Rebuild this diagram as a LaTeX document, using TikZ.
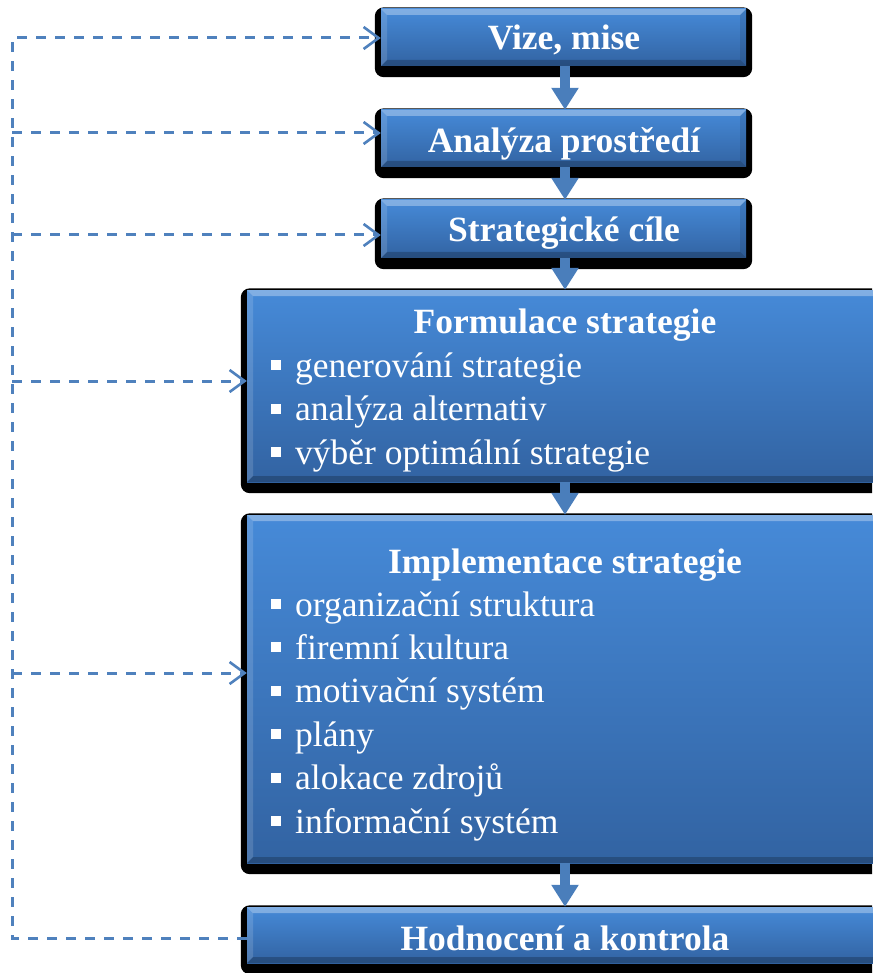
\documentclass[tikz,border=0pt]{standalone}
\usepackage{fontspec}
\setmainfont{Liberation Serif}
\usetikzlibrary{arrows.meta,backgrounds}
\definecolor{facetop}{RGB}{70,138,216}
\definecolor{facebot}{RGB}{50,99,162}
\definecolor{flowblue}{RGB}{74,126,187}
\definecolor{dashblue}{RGB}{79,129,189}
\newcommand{\itembul}{\raisebox{7pt}{\rule{10pt}{10pt}}\hspace{14pt}}
\tikzset{
  face/.style={rectangle, inner sep=0pt, draw=none, top color=facetop, bottom color=facebot,
    path picture={
      \coordinate (nw) at (path picture bounding box.north west);
      \coordinate (ne) at (path picture bounding box.north east);
      \coordinate (sw) at (path picture bounding box.south west);
      \coordinate (se) at (path picture bounding box.south east);
      \fill[white, opacity=0.32] (nw) -- (ne) -- ([shift={(-6pt,-6pt)}]ne) -- ([shift={(6pt,-6pt)}]nw) -- cycle;
      \fill[white, opacity=0.14] (nw) -- ([shift={(6pt,-6pt)}]nw) -- ([shift={(6pt,6pt)}]sw) -- (sw) -- cycle;
      \fill[black, opacity=0.10] (ne) -- ([shift={(-6pt,-6pt)}]ne) -- ([shift={(-6pt,6pt)}]se) -- (se) -- cycle;
      \fill[black, opacity=0.22] (sw) -- (se) -- ([shift={(-6pt,6pt)}]se) -- ([shift={(6pt,6pt)}]sw) -- cycle;
    }},
  title/.style={text=white, inner sep=0pt, anchor=base, font=\fontsize{35.5}{43}\selectfont\bfseries},
  itemtext/.style={text=white, inner sep=0pt, anchor=base west, font=\fontsize{35.5}{43}\selectfont},
  flow/.style={draw=flowblue, line width=10pt, -{Triangle[width=26pt,length=22pt]}},
  feedback/.style={draw=dashblue, line width=3pt, dash pattern=on 10pt off 9pt},
  fbtip/.style={-{Straight Barb[length=15pt,width=22pt,line width=2.6pt]}},
  shadowbox/.style={fill=black, rounded corners=9pt}
}
\begin{document}
\begin{tikzpicture}[x=1pt,y=-1pt]
\useasboundingbox (0,0) rectangle (872,973);

% boxes (faces)
\node[face, minimum width=365pt, minimum height=57pt] (b1) at (563.5,37.5) {};
\node[face, minimum width=365pt, minimum height=57pt] (b2) at (563.5,138.5) {};
\node[face, minimum width=365pt, minimum height=58pt] (b3) at (563.5,229) {};
\node[face, minimum width=633pt, minimum height=192pt] (b4) at (563.5,386) {};
\node[face, minimum width=633pt, minimum height=348pt] (b5) at (563.5,689) {};
\node[face, minimum width=633pt, minimum height=56pt] (b6) at (563.5,935) {};

% shadows behind
\begin{scope}[on background layer]
  \clip (0,0) rectangle (872,973);
  \foreach \b in {b1,b2,b3,b4,b5,b6}{
    \fill[shadowbox] ([shift={(-6pt,1.5pt)}]\b.north west) rectangle ([shift={(6pt,-11pt)}]\b.south east);
  }
\end{scope}

% titles
\node[title] (t1) at (564,50) {Vize, mise};
\node[title] (t2) at (564,153) {Analýza prostředí};
\node[title] (t3) at (564,242) {Strategické cíle};
\node[title] (t4) at (565,333) {Formulace strategie};
\node[title] (t5) at (565,573) {Implementace strategie};
\node[title] (t6) at (565,950) {Hodnocení a kontrola};

% items of Formulace strategie
\node[itemtext] (f1) at (271,377) {\itembul generování strategie};
\node[itemtext] (f2) at (271,420.5) {\itembul analýza alternativ};
\node[itemtext] (f3) at (271,464) {\itembul výběr optimální strategie};

% items of Implementace strategie
\node[itemtext] (i1) at (271,616) {\itembul organizační struktura};
\node[itemtext] (i2) at (271,659.4) {\itembul firemní kultura};
\node[itemtext] (i3) at (271,702.8) {\itembul motivační systém};
\node[itemtext] (i4) at (271,746.2) {\itembul plány};
\node[itemtext] (i5) at (271,789.6) {\itembul alokace zdrojů};
\node[itemtext] (i6) at (271,833) {\itembul informační systém};

% flow arrows
\draw[flow] ([xshift=1.5pt]b1.south) -- ([xshift=1.5pt]b2.north);
\draw[flow] ([xshift=1.5pt]b2.south) -- ([xshift=1.5pt]b3.north);
\draw[flow] ([xshift=1.5pt]b3.south) -- ([xshift=1.5pt]b4.north);
\draw[flow] ([xshift=1.5pt]b4.south) -- ([xshift=1.5pt]b5.north);
\draw[flow] ([xshift=1.5pt]b5.south) -- ([xshift=1.5pt]b6.north);

% feedback loop
\coordinate (rail) at (12,0);
\coordinate (e6) at ([yshift=-3pt]b6.west);
\coordinate (e1) at ([yshift=-0.5pt]b1.west);
\coordinate (e2) at ([yshift=5.5pt]b2.west);
\coordinate (e3) at ([yshift=-6pt]b3.west);
\coordinate (e4) at ([yshift=5pt]b4.west);
\coordinate (e5) at ([yshift=16pt]b5.west);
\draw[feedback, fbtip] (e6) -- (e6 -| rail) -- (e1 -| rail) -- (e1);
\draw[feedback, fbtip] (e2 -| rail) -- (e2);
\draw[feedback, fbtip] (e3 -| rail) -- (e3);
\draw[feedback, fbtip] (e4 -| rail) -- (e4);
\draw[feedback, fbtip] (e5 -| rail) -- (e5);
\end{tikzpicture}
\end{document}
